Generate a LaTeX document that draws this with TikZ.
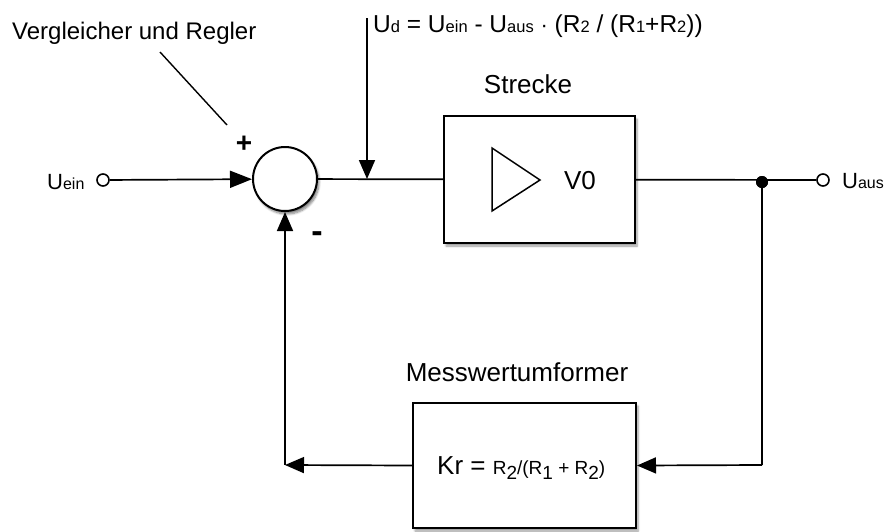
\documentclass[tikz,border=0pt]{standalone}
\usepackage{fontspec}
\setmainfont{Liberation Sans}
\usetikzlibrary{arrows.meta,shadows.blur}
\newcommand\fs[1]{\fontsize{#1}{#1}\selectfont}
\newcommand\smtxt[1]{{\fs{16.5}#1}}
\tikzset{
  line/.style={line width=1.7pt,draw=black},
  arr/.style={line, -{Triangle[length=19pt,width=16pt]}},
  arrbig/.style={line, -{Triangle[length=22pt,width=17pt]}},
  block/.style={draw=black,line width=2pt,fill=white,rectangle,
    blur shadow={shadow xshift=2pt,shadow yshift=-3pt,shadow blur steps=6,shadow opacity=40}},
  sumc/.style={draw=black,line width=2pt,fill=white,circle,inner sep=0pt,minimum size=64pt,
    blur shadow={shadow xshift=2pt,shadow yshift=-3pt,shadow blur steps=8,shadow opacity=50}},
  term/.style={draw=black,line width=1.6pt,fill=white,circle,inner sep=0pt,minimum size=12pt},
  dot/.style={fill=black,circle,inner sep=0pt,minimum size=12pt},
  lbl/.style={inner sep=0pt,text=black}
}
\begin{document}
\begin{tikzpicture}[x=1pt,y=-1pt]
\useasboundingbox (0,0) rectangle (889,531);
% blocks
\node[sumc] (sum) at (285,179) {};
\node[block,minimum width=191pt,minimum height=127pt] (str) at (539.5,179.5) {};
\node[block,minimum width=223pt,minimum height=125pt] (kr) at (524.5,465.5) {};
% amplifier triangle inside Strecke
\draw[line width=1.5pt,draw=black] (492,148) -- (540,180) -- (492,211) -- cycle;
\node[lbl,font=\fs{26}] (v0) at (580,181) {V0};
\node[lbl,font=\fs{26},anchor=base west] (kt) at (437,474) {Kr = {\fs{19}R\raisebox{-5pt}{2}/(R\raisebox{-5pt}{1} + R\raisebox{-5pt}{2})}};
% terminals
\node[term] (tin) at (103,180) {};
\node[term] (tout) at (823,180) {};
\node[dot] (jn) at (762,182) {};
% coordinates
\coordinate (c1) at (762,465);
\coordinate (c2) at (285,465);
\coordinate (udtop) at (367,18);
\coordinate (udbot) at (367,179);
\coordinate (pa) at (160,52);
\coordinate (pb) at (227,125);
% connectors
\draw[arrbig] (tin) -- (sum);
\draw[line] (sum) -- (str);
\draw[line] (str) -- (tout);
\draw[line] (jn.center) -- (c1);
\draw[arr] (c1) -- (kr.east);
\draw[arr] (kr.west) -- (c2);
\draw[arr] (c2) -- (sum.south);
\draw[arr] (udtop) -- (udbot);
\draw[line,line width=1.4pt] (pa) -- (pb);
\node[dot] at (jn) {};
% texts
\node[lbl,font=\fs{24},anchor=base west] (verg) at (12,39) {Vergleicher und Regler};
\node[lbl,font=\fs{26},anchor=base] (strl) at (528,93) {Strecke};
\node[lbl,font=\fs{26},anchor=base] (mess) at (517,381) {Messwertumformer};
\node[lbl,font=\bfseries\fs{28},anchor=base] (plus) at (244,152) {+};
\node[lbl,font=\bfseries\fs{34},anchor=base] (minus) at (317,242) {-};
\node[lbl,font=\fs{22},anchor=base west] (uein) at (47,189) {U{\fs{16}ein}};
\node[lbl,font=\fs{22},anchor=base west] (uaus) at (842,188) {U{\fs{16}aus}};
\node[lbl,font=\fs{24.5},anchor=base west] (ud) at (373,32) {U\smtxt{d} = U\smtxt{ein} - U\smtxt{aus} {\fs{22}·} (R\smtxt{2} / (R\smtxt{1}+R\smtxt{2}))};
\end{tikzpicture}
\end{document}
